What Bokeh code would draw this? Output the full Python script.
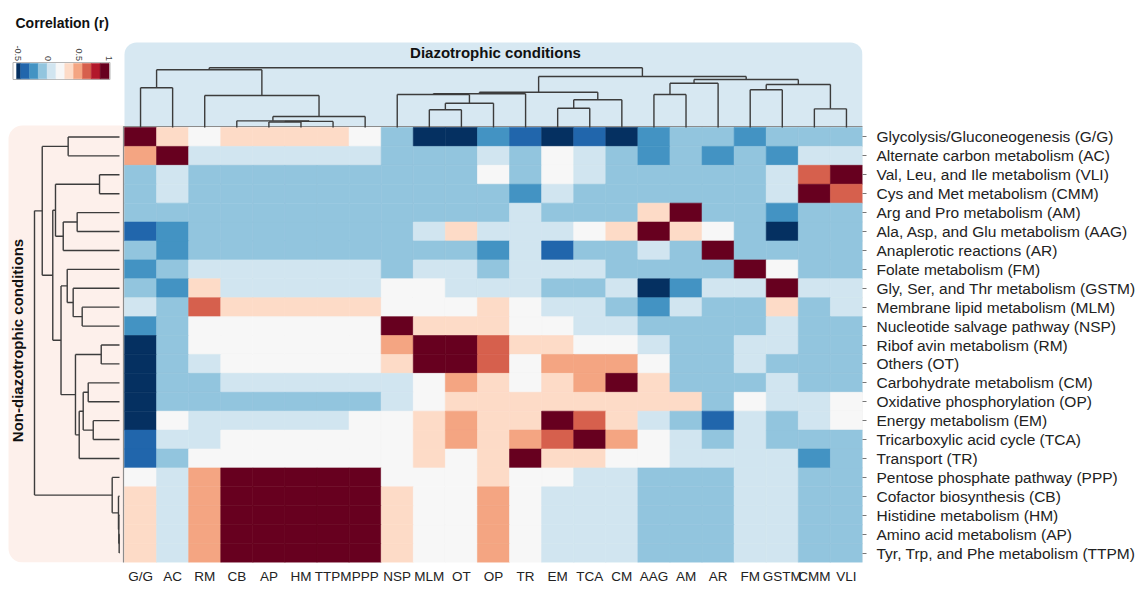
import numpy as np
from bokeh.plotting import figure
from bokeh.models import Range1d, LinearAxis, FixedTicker, LinearColorMapper, ColumnDataSource
from bokeh.core.properties import value
from bokeh.embed import file_html
from bokeh.resources import INLINE

# ---------------- data ----------------
col_keys = ["G/G", "AC", "RM", "CB", "AP", "HM", "TTPM", "PPP", "NSP", "MLM", "OT", "OP",
            "TR", "EM", "TCA", "CM", "AAG", "AM", "AR", "FM", "GSTM", "CMM", "VLI"]

row_keys = ["G/G", "AC", "VLI", "CMM", "AM", "AAG", "AR", "FM", "GSTM", "MLM", "NSP", "RM",
            "OT", "CM", "OP", "EM", "TCA", "TR", "PPP", "CB", "HM", "AP", "TTPM"]

row_labels = [
    "Glycolysis/Gluconeogenesis (G/G)",
    "Alternate carbon metabolism (AC)",
    "Val, Leu, and Ile metabolism (VLI)",
    "Cys and Met metabolism (CMM)",
    "Arg and Pro metabolism (AM)",
    "Ala, Asp, and Glu metabolism (AAG)",
    "Anaplerotic reactions (AR)",
    "Folate metabolism (FM)",
    "Gly, Ser, and Thr metabolism (GSTM)",
    "Membrane lipid metabolism (MLM)",
    "Nucleotide salvage pathway (NSP)",
    "Ribof avin metabolism (RM)",
    "Others (OT)",
    "Carbohydrate metabolism (CM)",
    "Oxidative phosphorylation (OP)",
    "Energy metabolism (EM)",
    "Tricarboxylic acid cycle (TCA)",
    "Transport (TR)",
    "Pentose phosphate pathway (PPP)",
    "Cofactor biosynthesis (CB)",
    "Histidine metabolism (HM)",
    "Amino acid metabolism (AP)",
    "Tyr, Trp, and Phe metabolism (TTPM)",
]

# correlation (r), one list per row (rows top to bottom, columns left to right)
corr = [
    [1.0, .35, .2, .35, .35, .35, .35, .2, -.1, -.55, -.55, -.25, -.4, -.55, -.4, -.55, -.25, -.1, -.1, -.25, -.1, -.1, -.1],
    [.5, 1.0, .05, .05, .05, .05, .05, .05, -.1, -.1, -.1, .05, -.1, .2, .05, -.1, -.25, -.1, -.25, -.1, -.25, .05, .05],
    [-.1, .05, -.1, -.1, -.1, -.1, -.1, -.1, -.1, -.1, -.1, .2, -.1, .2, .05, -.1, -.1, -.1, -.1, -.1, .05, .65, 1.0],
    [-.1, .05, -.1, -.1, -.1, -.1, -.1, -.1, -.1, -.1, -.1, -.1, -.25, .05, -.1, -.1, -.1, -.1, -.1, -.1, .05, 1.0, .65],
    [-.1, -.1, -.1, -.1, -.1, -.1, -.1, -.1, -.1, -.1, -.1, -.1, .05, -.1, -.1, -.1, .35, 1.0, -.1, -.1, -.25, -.1, -.1],
    [-.4, -.25, -.1, -.1, -.1, -.1, -.1, -.1, -.1, .05, .35, .05, .05, .05, .2, .35, 1.0, .35, .2, -.1, -.55, -.1, -.1],
    [-.1, -.25, -.1, -.1, -.1, -.1, -.1, -.1, -.1, -.1, -.1, -.25, .05, -.4, -.1, -.1, .05, -.1, 1.0, -.1, -.1, -.1, -.1],
    [-.25, -.1, .05, .05, .05, .05, .05, .05, -.1, .05, .05, -.1, .05, .05, .05, -.1, -.1, -.1, -.1, 1.0, .2, -.1, -.1],
    [-.1, -.25, .35, .05, .05, .05, .05, .05, .2, .2, .05, .05, .05, -.1, -.1, .05, -.55, -.25, .05, .05, 1.0, .05, .05],
    [.05, -.1, .65, .35, .35, .35, .35, .35, .2, .2, .2, .35, .2, .05, .05, -.1, -.25, .05, -.1, -.1, .35, -.1, .05],
    [-.25, -.1, .2, .2, .2, .2, .2, .2, 1.0, .35, .35, .35, .2, .2, .05, .05, -.1, -.1, -.1, -.1, .05, -.1, -.1],
    [-.55, -.1, .2, .2, .2, .2, .2, .2, .5, 1.0, 1.0, .65, .35, .35, .2, .2, .05, -.1, -.1, .05, .05, -.1, -.1],
    [-.55, -.1, .05, .2, .2, .2, .2, .2, .35, 1.0, 1.0, .65, .2, .5, .5, .5, .2, -.1, -.1, .05, -.1, -.1, -.1],
    [-.55, -.1, -.1, .05, .05, .05, .05, .05, .05, .2, .5, .35, .2, .35, .5, 1.0, .35, -.1, -.1, -.1, .05, -.1, -.1],
    [-.55, -.1, -.1, -.1, -.1, -.1, -.1, -.1, .05, .2, .35, .35, .35, .35, .35, .35, .35, .35, -.1, .2, .05, .05, .2],
    [-.55, .2, .05, .05, .05, .05, .05, .2, .2, .35, .5, .35, .35, 1.0, .65, .35, .05, -.1, -.4, .05, -.1, .05, .2],
    [-.4, .05, .05, .2, .2, .2, .2, .2, .2, .35, .5, .35, .5, .65, 1.0, .5, .2, .05, -.1, .05, -.1, -.1, -.1],
    [-.4, -.1, .2, .2, .2, .2, .2, .2, .2, .35, .2, .35, 1.0, .35, .35, .2, .2, .05, .05, .05, .05, -.25, -.1],
    [.2, .05, .5, 1.0, 1.0, 1.0, 1.0, 1.0, .2, .2, .2, .35, .2, .2, .05, .05, -.1, -.1, -.1, .05, .05, -.1, -.1],
    [.35, .05, .5, 1.0, 1.0, 1.0, 1.0, 1.0, .35, .2, .2, .5, .2, .05, .05, .05, -.1, -.1, -.1, .05, .05, -.1, -.1],
    [.35, .05, .5, 1.0, 1.0, 1.0, 1.0, 1.0, .35, .2, .2, .5, .2, .05, .05, .05, -.1, -.1, -.1, .05, .05, -.1, -.1],
    [.35, .05, .5, 1.0, 1.0, 1.0, 1.0, 1.0, .35, .2, .2, .5, .2, .05, .05, .05, -.1, -.1, -.1, .05, .05, -.1, -.1],
    [.35, .05, .5, 1.0, 1.0, 1.0, 1.0, 1.0, .35, .2, .2, .5, .2, .05, .05, .05, -.1, -.1, -.1, .05, .05, -.1, -.1],
]

# column dendrogram merges: (left, right, height); ints refer to earlier merges
col_merges = [
    ("AP", "HM", 0.01), (0, "TTPM", 0.02), ("CB", 1, 0.03), (2, "PPP", 0.11),
    ("RM", 3, 0.494), ("G/G", "AC", 0.634), (5, 4, 0.963),
    ("MLM", "OT", 0.232), (7, "OP", 0.353), ("NSP", 8, 0.512), (9, "TR", 0.525),
    ("EM", "TCA", 0.261), (11, "CM", 0.415), (10, 12, 0.554),
    ("AAG", "AM", 0.512), (14, "AR", 0.718), ("FM", "GSTM", 0.598),
    ("CMM", "VLI", 0.25), (16, 17, 0.695), (15, 18, 0.786), (13, 19, 0.841),
    (6, 20, 1.0),
]

# row dendrogram merges
row_merges = [
    ("G/G", "AC", 0.604), ("VLI", "CMM", 0.235), ("AM", "AAG", 0.498), (2, "AR", 0.662),
    (1, 3, 0.753), ("MLM", "NSP", 0.439), ("GSTM", 5, 0.545), ("FM", 6, 0.615),
    ("RM", "OT", 0.215), ("CM", "OP", 0.368), ("EM", "TCA", 0.309), (9, 10, 0.427),
    (11, "TR", 0.474), (8, 12, 0.518), (7, 13, 0.688), (4, 14, 0.785), (0, 15, 0.909),
    ("AP", "TTPM", 0.004), ("HM", 17, 0.008), ("CB", 18, 0.012), ("PPP", 19, 0.086),
    (16, 20, 1.0),
]

legend_ticks = [-0.5, 0, 0.5, 1]
legend_tick_labels = ["-0.5", "0", "0.5", "1"]
r_low, r_high = -0.6, 1.0
legend_min = -0.52
palette = ["#053061", "#2166ac", "#4393c3", "#92c5de", "#d1e5f0", "#f7f7f7",
           "#fddbc7", "#f4a582", "#d6604d", "#b2182b", "#67001f"]

# ---------------- geometry helpers (page px -> data) ----------------
N_COL, N_ROW = len(col_keys), len(row_keys)
HM_L, HM_R, HM_T, HM_B = 124.0, 862.0, 127.0, 562.0
CW = (HM_R - HM_L) / N_COL
RH = (HM_B - HM_T) / N_ROW


def px2x(px):
    return (px - HM_L) / CW


def py2y(py):
    return N_ROW - (py - HM_T) / RH


FONT = value("Liberation Sans")

p = figure(
    x_range=Range1d(px2x(0), N_COL), y_range=Range1d(0, py2y(0)),
    frame_width=int(HM_R), frame_height=int(HM_B),
    min_border_left=0, min_border_top=0, min_border_right=0, min_border_bottom=0,
    x_axis_type=None, y_axis_type=None, toolbar_location=None,
    output_backend="svg", background_fill_color="white", border_fill_color="white",
)
p.outline_line_color = None

# panels
p.quad(left=[px2x(124)], right=[px2x(862)], top=[py2y(42)], bottom=[py2y(127)],
       fill_color="#d7e8f2", line_color=None, border_radius=(12, 12, 0, 0))
p.quad(left=[px2x(8)], right=[px2x(123)], top=[py2y(125)], bottom=[py2y(562)],
       fill_color="#fdf0eb", line_color=None, border_radius=(14, 0, 0, 14))

# heatmap
mapper = LinearColorMapper(palette=palette, low=r_low, high=r_high)
xs, ys, rs = [], [], []
for i in range(N_ROW):
    for j in range(N_COL):
        xs.append(j + 0.5)
        ys.append(N_ROW - i - 0.5)
        rs.append(corr[i][j])
src = ColumnDataSource(dict(x=xs, y=ys, r=rs))
p.rect(x="x", y="y", width=1, height=1, source=src,
       fill_color={"field": "r", "transform": mapper},
       line_color={"field": "r", "transform": mapper}, line_width=0.6)
p.quad(left=[px2x(123)], right=[px2x(863)], top=[py2y(126)], bottom=[py2y(563)],
       fill_color=None, line_color="#8c8c8c", line_width=1.2)


# dendrograms
def dendro(leaves, merges, leaf_h):
    pos = {k: (i + 0.5, leaf_h) for i, k in enumerate(leaves)}
    nodes = []
    segs = []

    def get(k):
        return pos[k] if isinstance(k, str) else nodes[k]

    for a, b, h in merges:
        pa, ha = get(a)
        pb, hb = get(b)
        segs += [(pa, ha, pa, h), (pb, hb, pb, h), (pa, h, pb, h)]
        nodes.append(((pa + pb) / 2, h))
    return segs


# top: h=0 at py 122, h=1 at py 67.3; leaves start at heatmap top
TOP0, TOPS = 122.0, 54.7
top_segs = dendro(col_keys, col_merges, -(HM_T - TOP0) / TOPS)
p.segment(x0=[s[0] for s in top_segs], y0=[py2y(TOP0 - s[1] * TOPS) for s in top_segs],
          x1=[s[2] for s in top_segs], y1=[py2y(TOP0 - s[3] * TOPS) for s in top_segs],
          line_color="#3c3c3c", line_width=1.4)

# left: h=0 at px 119, h=1 at px 34
LEFT0, LEFTS = 119.0, 85.0
left_segs = dendro(row_keys, row_merges, 0.0)
p.segment(x0=[px2x(LEFT0 - s[1] * LEFTS) for s in left_segs], y0=[N_ROW - s[0] for s in left_segs],
          x1=[px2x(LEFT0 - s[3] * LEFTS) for s in left_segs], y1=[N_ROW - s[2] for s in left_segs],
          line_color="#3c3c3c", line_width=1.4)

# titles
p.text(x=[px2x(495)], y=[py2y(52)], text=["Diazotrophic conditions"], text_font=FONT,
       text_font_style="bold", text_font_size="15px", text_align="center",
       text_baseline="middle", text_color="#111111")
p.text(x=[px2x(17)], y=[py2y(340)], text=["Non-diazotrophic conditions"], text_font=FONT,
       text_font_style="bold", text_font_size="15px", text_align="center",
       text_baseline="middle", angle=np.pi / 2, text_color="#111111")
p.text(x=[px2x(15)], y=[py2y(22)], text=["Correlation (r)"], text_font=FONT,
       text_font_style="bold", text_font_size="14px", text_align="left",
       text_baseline="middle", text_color="#111111")


# legend colour bar
def leg_px(v):
    return 47.7 + v * 60.8


edges = np.linspace(r_low, r_high, len(palette) + 1)
p.quad(left=[px2x(12.5)], right=[px2x(109.5)], top=[py2y(62)], bottom=[py2y(79)],
       fill_color="white", line_color="#b5b5b5", line_width=1)
p.quad(left=[px2x(leg_px(max(edges[k], legend_min))) for k in range(len(palette))],
       right=[px2x(leg_px(edges[k + 1])) for k in range(len(palette))],
       top=[py2y(63)] * len(palette), bottom=[py2y(78.3)] * len(palette),
       fill_color=palette, line_color=palette, line_width=0.5)
p.text(x=[px2x(leg_px(v)) for v in legend_ticks], y=[py2y(60.5)] * len(legend_ticks),
       text=legend_tick_labels, text_font=FONT, text_font_size="9px", text_color="#444444",
       text_align="right", text_baseline="middle", angle=-np.pi / 2)

# axes
xticks = [j + 0.5 for j in range(N_COL)]
xaxis = LinearAxis(ticker=FixedTicker(ticks=xticks),
                   major_label_overrides={t: k for t, k in zip(xticks, col_keys)})
xaxis.axis_line_color = None
xaxis.major_tick_line_color = None
xaxis.major_tick_in = 0
xaxis.major_tick_out = 0
xaxis.minor_tick_line_color = None
xaxis.major_label_standoff = 6
xaxis.major_label_text_font = "Liberation Sans"
xaxis.major_label_text_font_size = "13.5px"
xaxis.major_label_text_color = "#222222"
p.add_layout(xaxis, "below")

yticks = [N_ROW - i - 0.5 for i in range(N_ROW)]
yaxis = LinearAxis(ticker=FixedTicker(ticks=yticks),
                   major_label_overrides={t: k for t, k in zip(yticks, row_labels)})
yaxis.axis_line_color = None
yaxis.major_tick_line_color = "#777777"
yaxis.major_tick_in = 0
yaxis.major_tick_out = 4
yaxis.minor_tick_line_color = None
yaxis.major_label_standoff = 10
yaxis.major_label_text_font = "Liberation Sans"
yaxis.major_label_text_font_size = "15.5px"
yaxis.major_label_text_color = "#222222"
p.add_layout(yaxis, "right")

open("out.html", "w").write(file_html(p, INLINE))
